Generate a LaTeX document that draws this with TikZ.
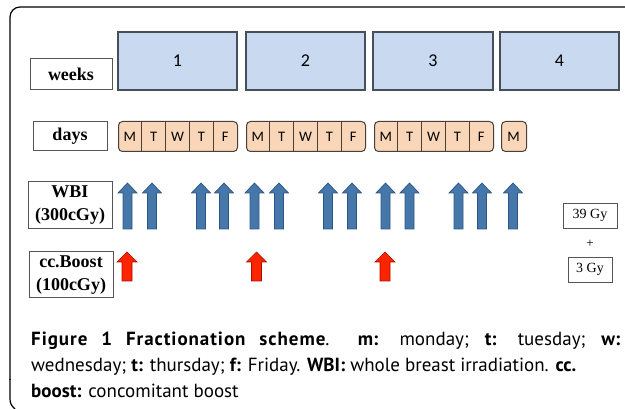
\documentclass[tikz,border=0pt]{standalone}
\usepackage{fontspec}
\setmainfont{Liberation Serif}
\newfontfamily\calfont{Carlito}
\newfontfamily\capfont{PT Sans}
\newfontfamily\capfontwide[LetterSpace=5]{PT Sans}
\definecolor{weekfill}{HTML}{C9DAF0}
\definecolor{weekdraw}{HTML}{46505A}
\definecolor{dayfill}{HTML}{FAD6B8}
\definecolor{daydraw}{HTML}{4A3F38}
\definecolor{bluefill}{HTML}{4677AA}
\definecolor{bluedraw}{HTML}{2E557F}
\definecolor{redfill}{HTML}{FF2400}
\definecolor{reddraw}{HTML}{A81000}
\definecolor{boxdraw}{HTML}{555555}
\tikzset{
  labelbox/.style={draw=boxdraw, line width=1pt, fill=white, inner sep=0pt, align=center,
    font=\bfseries\fontsize{18}{23}\selectfont},
  weekbox/.style={draw=weekdraw, fill=weekfill, line width=1.1pt, minimum width=119pt, minimum height=58pt, inner sep=0pt,
    font=\calfont\fontsize{18}{20}\selectfont},
  daygroup/.style={draw=daydraw, fill=dayfill, line width=1pt, rounded corners=4pt, minimum height=30pt, inner sep=0pt},
  dayletter/.style={font=\calfont\fontsize{14.5}{16}\selectfont, inner sep=0pt},
  dosebox/.style={draw=boxdraw, line width=0.9pt, inner sep=0pt, minimum height=25pt, font=\fontsize{14}{16}\selectfont},
  captext/.style={anchor=base west, inner sep=0pt, font=\capfont\fontsize{19}{24}\selectfont},
  pics/bluearrow/.style={code={
    \draw[fill=bluefill, draw=bluedraw, line width=0.7pt]
      (0,0) -- (9.5,10) -- (4.5,10) -- (4.5,46) -- (-4.5,46) -- (-4.5,10) -- (-9.5,10) -- cycle;}},
  pics/redarrow/.style={code={
    \draw[fill=redfill, draw=reddraw, line width=0.7pt]
      (0,0) -- (10,10) -- (5,10) -- (5,29) -- (-5,29) -- (-5,10) -- (-10,10) -- cycle;}},
}
\begin{document}
\begin{tikzpicture}[x=1pt,y=-1pt]
\useasboundingbox (0,0) rectangle (625,409);
% frame
\draw[line width=1.2pt, rounded corners=10pt] (625,7) -- (10,7) -- (10,380);
\draw[line width=1.2pt] (10,379) -- (10,399) .. controls (10,404) and (12,406) .. (15,409);
% row labels
\node[labelbox, minimum width=82pt, minimum height=31pt] (lweeks) at (71,74.5) {weeks};
\node[labelbox, minimum width=74pt, minimum height=29pt] (ldays) at (70,136.5) {days};
\node[labelbox, minimum width=84pt, minimum height=47pt] (lwbi) at (70,205.5) {WBI\\(300cGy)};
\node[labelbox, minimum width=84pt, minimum height=46pt] (lboost) at (71,275) {cc.Boost\\(100cGy)};
% weeks
\node[weekbox] (w1) at (177.5,61) {1};
\node[weekbox] (w2) at (305.5,61) {2};
\node[weekbox, minimum width=120pt] (w3) at (433,61) {3};
\node[weekbox] (w4) at (559.5,61) {4};
% days
\foreach \g/\x in {1/118,2/246,3/374}{
  \node[daygroup, minimum width=119pt, anchor=west] (dg\g) at (\x,136.5) {};
  \foreach \i/\l in {0/M,1/T,2/W,3/T,4/F}{
    \node[dayletter] (d\g\i) at ({\x+11.9+23.8*\i},136.5) {\l};
  }
  \foreach \i in {1,2,3,4}{
    \draw[draw=daydraw, line width=1pt] ({\x+23.8*\i},121.5) -- ({\x+23.8*\i},151.5);
  }
}
\node[daygroup, minimum width=25pt, anchor=west] (dg4) at (501,136.5) {};
\node[dayletter] (d40) at (513.5,136.5) {M};
% WBI arrows
\foreach \x in {127.5,152,201,224,254.5,279,328,352,385.5,409.5,458.5,482,513}{
  \pic at (\x,183) {bluearrow};
}
% boost arrows
\foreach \x in {127,256.5,385}{
  \pic at (\x,252) {redarrow};
}
% doses
\node[dosebox, minimum width=54pt] (g39) at (590,215.5) {39 Gy};
\node[font=\fontsize{13}{14}\selectfont, inner sep=0pt] (plus) at (590,244) {+};
\node[dosebox, minimum width=44pt] (g3) at (590,269.5) {3 Gy};
% caption
\node[captext] (cap1) at (31,345)
  {\makebox[589pt][s]{{\capfontwide\bfseries Figure 1 Fractionation scheme}. \textbf{m:} monday; \textbf{t:} tuesday; \textbf{w:}}};
\node[captext] (cap2) at (31,371)
  {wednesday; \textbf{t:} thursday; \textbf{f:} Friday. \textbf{WBI:} whole breast irradiation. \textbf{cc.}};
\node[captext] (cap3) at (31,397)
  {\textbf{boost:} concomitant boost};
\end{tikzpicture}
\end{document}
